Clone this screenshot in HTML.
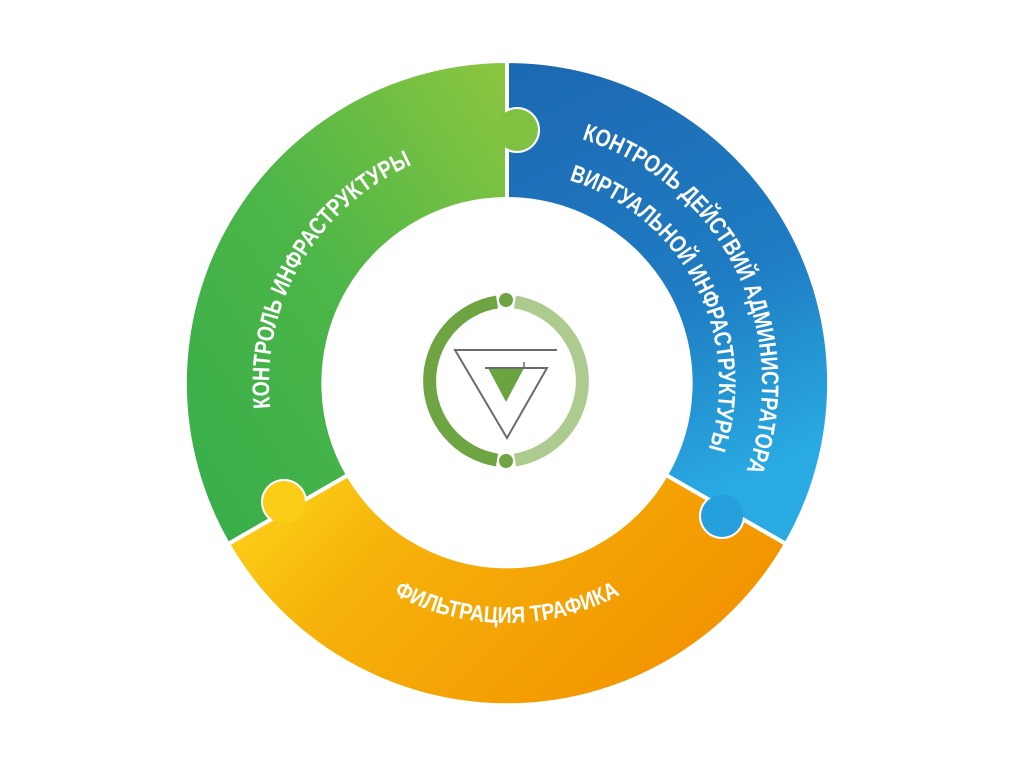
<!DOCTYPE html>
<html><head><meta charset="utf-8"><style>
html,body{margin:0;padding:0;background:#fff;width:1024px;height:768px;overflow:hidden}
svg{display:block}
text{font-family:"Liberation Sans Narrow","Liberation Sans",sans-serif;font-weight:bold;fill:#fff}
</style></head><body>
<svg width="1024" height="768" viewBox="0 0 1024 768">
<defs>
<linearGradient id="gG" x1="0" y1="1" x2="1" y2="0"><stop offset="0" stop-color="#35ad4a"/><stop offset="0.5" stop-color="#4db648"/><stop offset="1" stop-color="#8dc63f"/></linearGradient>
<linearGradient id="gB" x1="0" y1="0" x2="0.3" y2="1"><stop offset="0" stop-color="#1c68b2"/><stop offset="0.6" stop-color="#1f7cc2"/><stop offset="1" stop-color="#29aae2"/></linearGradient>
<linearGradient id="gO" x1="0" y1="0" x2="1" y2="0.4"><stop offset="0" stop-color="#fdd81c"/><stop offset="0.35" stop-color="#f6b20a"/><stop offset="1" stop-color="#f29400"/></linearGradient>
<clipPath id="cB"><path d="M507 61 A322 322 0 0 1 786 544 L666 475 A184 184 0 0 0 507 199 Z"/></clipPath>
<clipPath id="cO"><path d="M786 544 A322 322 0 0 1 228 544 L348 475 A184 184 0 0 0 666 475 Z"/></clipPath>
<clipPath id="cG"><path d="M228 544 A322 322 0 0 1 507 61 L507 199 A184 184 0 0 0 348 475 Z"/></clipPath>
<path id="arcB1" d="M507 128 A255 255 0 0 1 702.3 546.9" fill="none"/>
<path id="arcB2" d="M507 171 A212 212 0 0 1 669.4 519.3" fill="none"/>
<path id="arcG" d="M283.4 464.4 A238 238 0 0 1 507 145" fill="none"/>
<path id="arcO" d="M267 383 A240 240 0 0 0 747 383" fill="none"/>
</defs>
<path d="M507 61 A322 322 0 0 1 786 544 L666 475 A184 184 0 0 0 507 199 Z" fill="url(#gB)" stroke="#fff" stroke-width="4"/>
<path d="M786 544 A322 322 0 0 1 228 544 L348 475 A184 184 0 0 0 666 475 Z" fill="url(#gO)" stroke="#fff" stroke-width="4"/>
<path d="M228 544 A322 322 0 0 1 507 61 L507 199 A184 184 0 0 0 348 475 Z" fill="url(#gG)" stroke="#fff" stroke-width="4"/>
<circle cx="517" cy="130" r="21" fill="none" stroke="#fff" stroke-width="4" clip-path="url(#cB)"/>
<circle cx="517" cy="130" r="21" fill="#7fc241"/>
<rect x="503" y="116" width="8" height="28" fill="#80c241"/>
<circle cx="722" cy="516" r="21" fill="none" stroke="#fff" stroke-width="4" clip-path="url(#cO)"/>
<circle cx="722" cy="516" r="21" fill="#25a0dc"/>
<circle cx="726" cy="509" r="14" fill="#25a0dc"/>
<circle cx="284" cy="502" r="21" fill="none" stroke="#fff" stroke-width="4" clip-path="url(#cG)"/>
<circle cx="284" cy="502" r="21" fill="#fbcd17"/>
<circle cx="288" cy="509" r="14" fill="#fbcd17"/>
<text font-size="24"><textPath href="#arcG" startOffset="58" textLength="301" lengthAdjust="spacingAndGlyphs">КОНТРОЛЬ ИНФРАСТРУКТУРЫ</textPath></text>
<text font-size="24"><textPath href="#arcB1" startOffset="76" textLength="414" lengthAdjust="spacingAndGlyphs">КОНТРОЛЬ ДЕЙСТВИЙ АДМИНИСТРАТОРА</textPath></text>
<text font-size="24"><textPath href="#arcB2" startOffset="63" textLength="337" lengthAdjust="spacingAndGlyphs">ВИРТУАЛЬНОЙ ИНФРАСТРУКТУРЫ</textPath></text>
<text font-size="23"><textPath href="#arcO" startOffset="50%" text-anchor="middle" textLength="236" lengthAdjust="spacingAndGlyphs">ФИЛЬТРАЦИЯ ТРАФИКА</textPath></text>
<path d="M497 302 A80 80 0 0 0 497 460" fill="none" stroke="#6ea441" stroke-width="13"/>
<path d="M515 302 A80 80 0 0 1 515 460" fill="none" stroke="#aecb8f" stroke-width="13"/>
<circle cx="506" cy="300" r="7" fill="#6ea441"/>
<circle cx="506" cy="461" r="7" fill="#6ea441"/>
<polygon points="488,368 524,368 506,402" fill="#6aa43f"/>
<polyline points="557,350 455,350 507,438 547,368 485,368" fill="none" stroke="#6b6b6b" stroke-width="2"/>
<line x1="524" y1="362" x2="524" y2="368" stroke="#6b6b6b" stroke-width="1.5"/>
</svg>
</body></html>
